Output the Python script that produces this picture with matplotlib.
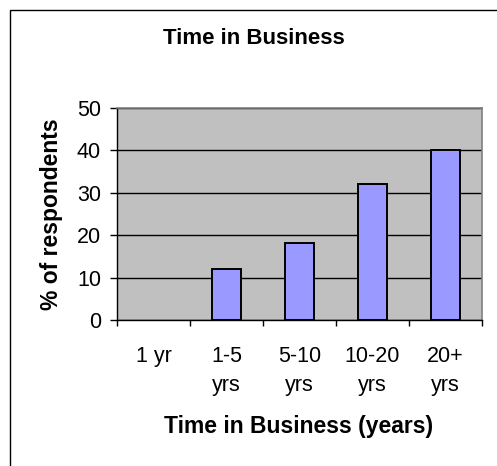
import matplotlib
matplotlib.use("Agg")
import matplotlib.pyplot as plt
from matplotlib.patches import Rectangle
import numpy as np

plt.rcParams['font.family'] = ['Liberation Sans', 'DejaVu Sans']

categories = ["1 yr", "1-5\nyrs", "5-10\nyrs", "10-20\nyrs", "20+\nyrs"]
values = [0, 12, 18.2, 32, 40]
y_ticks = [0, 10, 20, 30, 40, 50]

W, H = 497, 466
fig = plt.figure(figsize=(W / 100, H / 100), dpi=100)
fig.patch.set_facecolor('white')

# plot area in pixel coordinates
left, right, top, bottom = 117, 482, 108, 320
ax = fig.add_axes([left / W, 1 - bottom / H, (right - left) / W, (bottom - top) / H])
ax.set_facecolor('#C0C0C0')

x = np.arange(len(categories))
edges = ['black' if v > 0 else 'none' for v in values]
ax.bar(x, values, width=0.40, color='#9999FF', edgecolor=edges, linewidth=1.4, zorder=3)

ax.set_xlim(-0.5, len(categories) - 0.5)
ax.set_ylim(0, 50)
ax.set_yticks(y_ticks)
ax.set_yticklabels([str(t) for t in y_ticks], fontsize=15.5)
ax.yaxis.grid(True, color='black', linewidth=1.0, zorder=1)
ax.set_axisbelow(True)

# category boundaries carry the tick marks, centers carry the labels
ax.set_xticks(np.arange(-0.5, len(categories), 1.0))
ax.set_xticklabels([])
ax.set_xticks(x, minor=True)
ax.set_xticklabels(categories, minor=True, fontsize=15.5, linespacing=1.45)
ax.tick_params(axis='x', which='minor', length=0, pad=19)
ax.tick_params(axis='x', which='major', length=4.5, width=1, color='black', direction='out')
ax.tick_params(axis='y', length=5, width=1, color='black', direction='out', pad=6.5)

for s in ['top', 'right']:
    ax.spines[s].set_color('#808080')
    ax.spines[s].set_linewidth(1.2)
for s in ['left', 'bottom']:
    ax.spines[s].set_color('black')
    ax.spines[s].set_linewidth(1.0)

fig.text(254 / W, 1 - 38 / H, "Time in Business", ha='center', va='center',
         fontsize=16, fontweight='bold')
fig.text(52 / W, 1 - 214 / H, "% of respondents", ha='center', va='center',
         rotation=90, fontsize=16.5, fontweight='bold')
fig.text(299 / W, 1 - 427 / H, "Time in Business (years)", ha='center', va='center',
         fontsize=16.5, fontweight='bold')

# outer chart frame
fig.add_artist(Rectangle((9.5 / W, -0.1), 1.2, (H - 9.5) / H + 0.1,
                         transform=fig.transFigure, fill=False,
                         edgecolor='black', linewidth=1.0))

fig.savefig("out.png", dpi=100)
